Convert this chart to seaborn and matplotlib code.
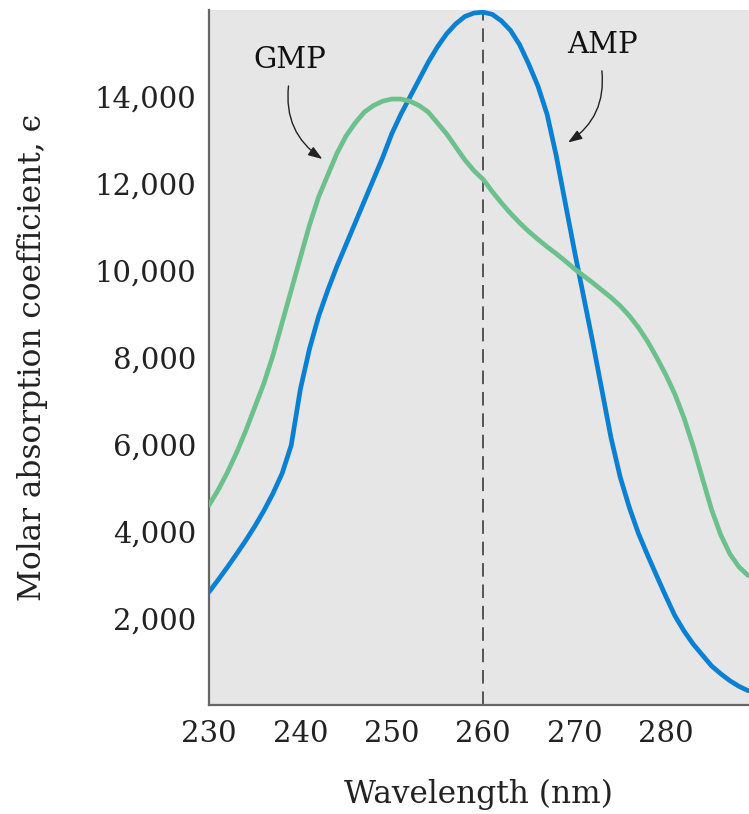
import numpy as np
import pandas as pd
import matplotlib
matplotlib.use("Agg")
import matplotlib.pyplot as plt
import seaborn as sns

# ---- data ----
wavelength = list(range(230, 290))  # 230 .. 289 nm

amp = [2600, 2880, 3170, 3470, 3780, 4110, 4470, 4870, 5330, 5980,
       7270, 8200, 8950, 9550, 10100, 10600, 11100, 11600, 12100, 12600,
       13150, 13600, 14000, 14400, 14800, 15150, 15450, 15680, 15850, 15930,
       15950, 15900, 15750, 15530, 15200, 14750, 14250, 13600, 12650, 11550,
       10450, 9400, 8350, 7250, 6150, 5250, 4550, 3950, 3450, 2970,
       2500, 2050, 1700, 1400, 1150, 900, 720, 560, 430, 330]

gmp = [4600, 4950, 5350, 5800, 6300, 6850, 7400, 8050, 8800, 9550,
       10300, 11050, 11700, 12200, 12700, 13100, 13400, 13650, 13800, 13900,
       13950, 13950, 13900, 13800, 13650, 13400, 13150, 12850, 12550, 12300,
       12100, 11820, 11560, 11320, 11100, 10900, 10720, 10550, 10390, 10220,
       10040, 9880, 9720, 9550, 9380, 9190, 8960, 8690, 8370, 8000,
       7600, 7150, 6600, 5950, 5220, 4500, 3920, 3480, 3180, 2980]

series_names = ["AMP", "GMP"]
series_colors = ["#0a80d2", "#6cc08c"]
y_ticks = [2000, 4000, 6000, 8000, 10000, 12000, 14000, 16000]
y_tick_labels = ["2,000", "4,000", "6,000", "8,000", "10,000", "12,000", "14,000", ""]
x_ticks = [230, 240, 250, 260, 270, 280]
x_tick_labels = ["230", "240", "250", "260", "270", "280"]
peak_marker = 260

df = pd.DataFrame({
    "Wavelength": wavelength * 2,
    "Absorption": amp + gmp,
    "Nucleotide": [series_names[0]] * len(wavelength) + [series_names[1]] * len(wavelength),
})

sns.set_theme(style="white")
plt.rcParams["font.family"] = ["DejaVu Serif"]

fig = plt.figure(figsize=(7.49, 8.14), dpi=100)
ax = fig.add_axes([209 / 749, 109 / 814, 1 - 209 / 749, (705 - 10) / 814])
ax.set_facecolor("#e6e6e6")

ax.axvline(peak_marker, color="#555555", lw=1.4, ls=(0, (7, 4)), zorder=1)

sns.lineplot(data=df, x="Wavelength", y="Absorption", hue="Nucleotide",
             palette=dict(zip(series_names, series_colors)), lw=3.4,
             legend=False, ax=ax, zorder=3)

ax.set_xlim(230, 289.1)
ax.set_ylim(0, 16000)
ax.set_xticks(x_ticks)
ax.set_xticklabels(x_tick_labels)
ax.set_yticks(y_ticks)
ax.set_yticklabels(y_tick_labels)

for side in ["top", "right"]:
    ax.spines[side].set_visible(False)
for side in ["left", "bottom"]:
    ax.spines[side].set_color("#666666")
    ax.spines[side].set_linewidth(1.6)

ax.tick_params(axis="both", direction="in", length=12, width=1.6,
               color="#666666", labelsize=21, labelcolor="#222222")
ax.tick_params(axis="x", pad=11)
ax.tick_params(axis="y", pad=9)

ax.set_xlabel("Wavelength (nm)", fontsize=22.5, color="#222222", labelpad=22)
ax.set_ylabel("Molar absorption coefficient, \u03f5", fontsize=22.5,
              color="#222222", labelpad=34)

arrow_kw = dict(arrowstyle="-|>,head_length=0.7,head_width=0.25",
                color="#222222", lw=1.0, shrinkA=0, shrinkB=0)

ax.text(238.8, 14850, "GMP", ha="center", va="center", fontsize=21, color="#111111")
ax.annotate("", xy=(242.4, 12570), xytext=(238.7, 14250),
            arrowprops=dict(connectionstyle="arc3,rad=0.3", **arrow_kw))

ax.text(273.1, 15200, "AMP", ha="center", va="center", fontsize=21, color="#111111")
ax.annotate("", xy=(269.3, 12950), xytext=(273.0, 14600),
            arrowprops=dict(connectionstyle="arc3,rad=-0.3", **arrow_kw))

fig.savefig("out.png", dpi=100)
